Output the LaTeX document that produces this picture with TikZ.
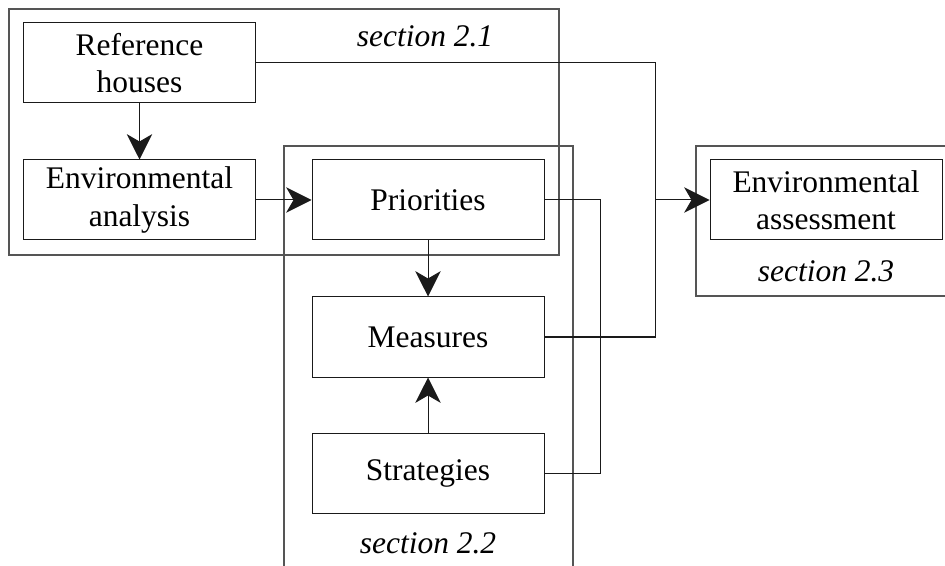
\documentclass[tikz,border=0pt]{standalone}
\usepackage{fontspec}
\setmainfont{Liberation Serif}
\usepackage{tikz}
\usetikzlibrary{positioning,arrows.meta,calc}
\definecolor{frame1}{HTML}{555555}
\definecolor{ink1}{HTML}{1A1A1A}

\begin{document}
\begin{tikzpicture}[
    x=0.75pt, y=-0.75pt,
    box/.style={draw=ink1, line width=0.75pt,
                minimum width=174pt, minimum height=60pt,
                align=center, inner sep=0pt,
                font=\fontsize{23.6}{27.8}\selectfont},
    frame/.style={draw=frame1, line width=1.1pt},
    seclabel/.style={anchor=base, inner sep=0pt,
                     font=\fontsize{23.6}{27.8}\selectfont\itshape},
    link/.style={draw=ink1, line width=0.75pt},
    flow/.style={link, -{Stealth[length=19pt, width=19pt, inset=5.5pt]}},
]
\useasboundingbox (0,0) rectangle (945,566);

\draw[frame] (9,9) rectangle (559,255);
\draw[frame] (284,566) -- (284,146) -- (573,146) -- (573,566);
\draw[frame] (945,146) -- (696,146) -- (696,296) -- (945,296);

\node[box] (refh)   at (139.5,63)  {Reference\\houses};
\node[box] (envan)  at (139.5,200) {Environmental\\analysis};
\node[box] (prio)   at (428,200)   {Priorities};
\node[box] (meas)   at (428,337)   {Measures};
\node[box] (strat)  at (428,473)   {Strategies};
\node[box] (assess) at (826,200)   {Environmental\\assessment};

\node[seclabel] (sec1) at (425,47)  {section 2.1};
\node[seclabel] (sec2) at (428,553) {section 2.2};
\node[seclabel] (sec3) at (826,282) {section 2.3};

\coordinate (tap) at (655,200);

\draw[flow] (refh) -- (envan);
\draw[flow] (envan) -- (prio);
\draw[flow] (prio) -- (meas);
\draw[flow] (strat) -- (meas);
\draw[link] (prio.east) -- ++(56,0) |- (strat.east);
\draw[link] (refh.east) -| (tap) |- (meas.east);
\draw[flow] (tap) -- (assess);
\end{tikzpicture}
\end{document}
